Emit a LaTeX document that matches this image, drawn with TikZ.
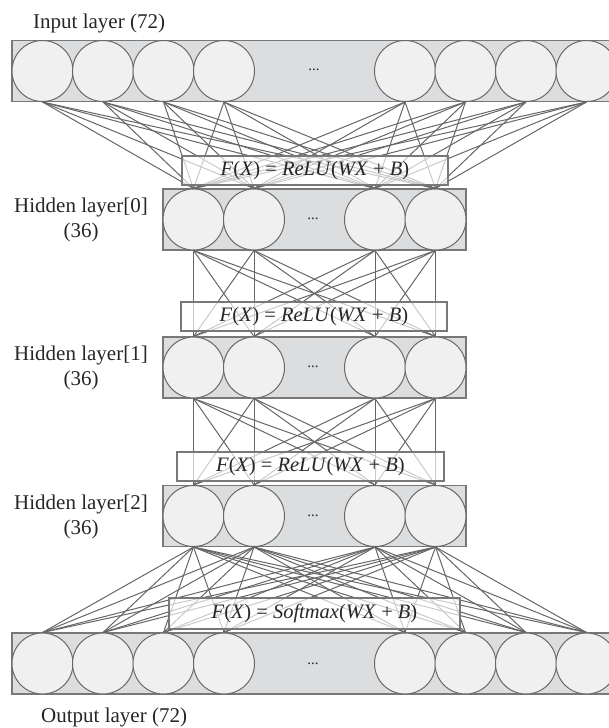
\documentclass[tikz,border=0pt]{standalone}
\usepackage{fontspec}
\setmainfont{Liberation Serif}
\definecolor{edgegray}{RGB}{102,102,102}
\definecolor{ringgray}{RGB}{105,105,105}
\definecolor{framegray}{RGB}{120,120,120}
\definecolor{layerfill}{RGB}{220,221,223}
\definecolor{cellfill}{RGB}{239,240,239}
\tikzset{
  layerbox/.style={draw=framegray, line width=1.2pt, fill=layerfill, rectangle, inner sep=0pt},
  neuron/.style={draw=ringgray, line width=1pt, fill=cellfill, circle, minimum size=61pt, inner sep=0pt},
  conn/.style={draw=edgegray, line width=1pt},
  actbox/.style={draw=framegray, line width=1.1pt, fill=white, fill opacity=0.66, text opacity=1,
                 rectangle, inner sep=0pt, minimum height=29pt, text=black!85,
                 font=\fontsize{20.5}{22}\selectfont},
  lbl/.style={text=black!85, font=\fontsize{21}{25}\selectfont, inner sep=0pt},
  dotsl/.style={text=black!85, font=\fontsize{15}{15}\selectfont, inner sep=0pt}
}
\begin{document}
\begin{tikzpicture}[x=1pt, y=-1pt]
\useasboundingbox (0,0) rectangle (609,728);
\begin{scope}
\clip (0,0) rectangle (609,728);

% layer frames
\node[layerbox, minimum width=605pt, minimum height=61pt] (inlayer) at (314.5,71) {};
\node[layerbox, minimum width=303pt, minimum height=61pt] (hlayer0) at (314.5,219.5) {};
\node[layerbox, minimum width=303pt, minimum height=61pt] (hlayer1) at (314.5,367.5) {};
\node[layerbox, minimum width=303pt, minimum height=61pt] (hlayer2) at (314.5,516) {};
\node[layerbox, minimum width=605pt, minimum height=61pt] (outlayer) at (314.5,663.5) {};

% neurons of the wide layers
\foreach \x [count=\k] in {42.5,103,163.5,224,405,465.5,526,586.5} {
  \node[neuron] (in\k) at (\x,71) {};
  \node[neuron] (out\k) at (\x,663.5) {};
}
% neurons of the hidden layers
\foreach \r/\y in {0/219.5,1/367.5,2/516} {
  \foreach \x [count=\k] in {193.5,254,375,435.5}
    \node[neuron] (h\r\k) at (\x,\y) {};
}

% ellipses for the omitted neurons
\node[dotsl] (indots) at (314,69.5) {...};
\node[dotsl] (h0dots) at (313,218.5) {...};
\node[dotsl] (h1dots) at (313,366.5) {...};
\node[dotsl] (h2dots) at (313,516) {...};
\node[dotsl] (outdots) at (313,664) {...};

% full connections between consecutive layers
\foreach \a in {1,...,8}
  \foreach \b in {1,...,4} {
    \draw[conn] (in\a.south) -- (h0\b.north);
    \draw[conn] (h2\b.south) -- (out\a.north);
  }
\foreach \a in {1,...,4}
  \foreach \b in {1,...,4} {
    \draw[conn] (h0\a.south) -- (h1\b.north);
    \draw[conn] (h1\a.south) -- (h2\b.north);
  }

% activation functions
\node[actbox, minimum width=266pt] (act0) at (315,170.5)
  {\textit{F}(\textit{X}) = \textit{ReLU}(\textit{WX} + \textit{B})};
\node[actbox, minimum width=266pt] (act1) at (314,316.5)
  {\textit{F}(\textit{X}) = \textit{ReLU}(\textit{WX} + \textit{B})};
\node[actbox, minimum width=267pt] (act2) at (310.5,466.5)
  {\textit{F}(\textit{X}) = \textit{ReLU}(\textit{WX} + \textit{B})};
\node[actbox, minimum width=291pt, minimum height=31pt] (act3) at (314.5,613.5)
  {\textit{F}(\textit{X}) = \textit{Softmax}(\textit{WX} + \textit{B})};

% layer labels
\node[lbl, anchor=base west] (inlabel) at (33,28) {Input layer (72)};
\node[lbl, align=center] (h0label) at (81,220) {Hidden layer[0]\\(36)};
\node[lbl, align=center] (h1label) at (81,368) {Hidden layer[1]\\(36)};
\node[lbl, align=center] (h2label) at (81,516.5) {Hidden layer[2]\\(36)};
\node[lbl, anchor=base west] (outlabel) at (41,722) {Output layer (72)};
\end{scope}
\end{tikzpicture}
\end{document}
